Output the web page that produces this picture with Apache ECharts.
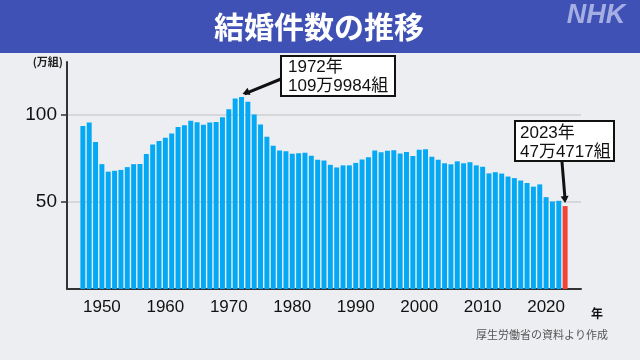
<!DOCTYPE html>
<html><head><meta charset="utf-8">
<script src="https://cdn.jsdelivr.net/npm/echarts@6/dist/echarts.min.js"></script>
<style>html,body{margin:0;padding:0;background:#eceef1;}#c{width:640px;height:360px;}</style>
</head><body><div id="c"></div>
<script>
// Data (万組), 1947-2023
const firstYear = 1947;
const marriages = [
93.4,95.4,84.2,71.5,67.2,67.7,68.2,69.8,71.5,71.6,
77.3,82.7,84.7,86.6,89.0,92.8,93.8,96.3,95.5,94.0,
95.3,95.6,98.4,102.9,109.1,110.0,107.2,100.0,94.2,87.2,
82.1,79.3,78.9,77.5,77.7,78.1,76.3,74.0,73.6,71.1,
69.6,70.8,70.8,72.2,74.2,75.4,79.3,78.3,79.2,79.5,
77.6,78.5,76.2,79.8,80.0,75.7,74.0,72.0,71.4,73.1,
72.0,72.6,70.8,70.0,66.2,66.9,66.1,64.4,63.5,62.1,
60.7,58.6,59.9,52.6,50.1,50.5,47.5];
const axisStart = 1945, axisEnd = 2025;
const yTicks = [50, 100];
const titleText = '結婚件数の推移';
const peakYear = '1972', peakLabel = ['1972年', '109万9984組'];
const lastYear = '2023', lastLabel = ['2023年', '47万4717組'];
const unitLabel = '(万組)';
const sourceText = '厚生労働省の資料より作成';

const categories = [];
for (let y = axisStart; y <= axisEnd; y++) categories.push(String(y));
const barData = categories.map(c => {
  const i = +c - firstYear;
  if (i < 0 || i >= marriages.length) return null;
  const v = marriages[i];
  if (c === lastYear) return {value: v, itemStyle: {color: '#f44336'}};
  return v;
});

const FONT = '"Liberation Sans", "Noto Sans CJK JP", sans-serif';
const chart = echarts.init(document.getElementById('c'));
chart.setOption({
  backgroundColor: '#eceef1',
  animation: false,
  grid: {left: 67, right: 59, top: 62, bottom: 71, containLabel: false},
  xAxis: {
    type: 'category', data: categories,
    axisLine: {lineStyle: {color: '#333', width: 2}},
    axisTick: {alignWithLabel: true, interval: (i, v) => (+v) % 10 === 0, length: 6, lineStyle: {color: '#222', width: 2}},
    axisLabel: {interval: (i, v) => (+v) % 10 === 0, color: '#111', fontSize: 17, fontFamily: FONT, margin: 10},
    splitLine: {show: false}
  },
  yAxis: {
    type: 'value', min: 0, max: 130, interval: 50,
    name: unitLabel, nameLocation: 'end', nameGap: 0,
    nameTextStyle: {color: '#222', fontSize: 11, fontWeight: 'bold', fontFamily: '"Noto Sans CJK JP", sans-serif', align: 'right', verticalAlign: 'middle', padding: [0, 4, 0, 0]},
    axisLine: {show: true, lineStyle: {color: '#333', width: 2}},
    axisTick: {show: true, length: 6, lineStyle: {color: '#333', width: 1.5}, customValues: yTicks},
    axisLabel: {color: '#111', fontSize: 19, fontFamily: FONT, margin: 10, customValues: yTicks},
    splitLine: {lineStyle: {color: '#d6d7da', width: 2}}
  },
  series: [{
    type: 'bar', data: barData, barCategoryGap: '22%',
    itemStyle: {color: '#03a9f4'}
  }],
  graphic: [
    {type: 'rect', left: 0, top: 0, shape: {width: 640, height: 53}, style: {fill: '#3f51b5'}, z: 10},
    {type: 'text', x: 319, y: 27, style: {text: titleText, fill: '#fff', font: 'bold 30px "Noto Sans CJK JP", sans-serif', textAlign: 'center', textVerticalAlign: 'middle'}, z: 11},
    {type: 'text', x: 596, y: 16, style: {text: 'NHK', fill: '#a4aee3', font: 'italic bold 27px "Liberation Sans", sans-serif', textAlign: 'center', textVerticalAlign: 'middle'}, z: 11},
    {type: 'text', x: 597, y: 313, style: {text: '年', fill: '#111', font: 'bold 12px "Noto Sans CJK JP", sans-serif', textAlign: 'center', textVerticalAlign: 'middle'}},
    {type: 'text', x: 608, y: 335, style: {text: sourceText, fill: '#555', font: '11px "Noto Sans CJK JP", sans-serif', textAlign: 'right', textVerticalAlign: 'middle'}}
  ]
});

function addAnnotations() {
  const pk = chart.convertToPixel({seriesIndex: 0}, [peakYear, marriages[+peakYear - firstYear]]);
  const ls = chart.convertToPixel({seriesIndex: 0}, [lastYear, marriages[+lastYear - firstYear]]);
  const boxStyle = {fill: '#fff', stroke: '#111', lineWidth: 2};
  const txtFont = '17px "Liberation Sans", "Noto Sans CJK JP", sans-serif';
  const g = chart.getOption().graphic[0].elements.slice();
  const extra = [
    {type: 'line', shape: {x1: 281, y1: 79, x2: pk[0] + 3, y2: pk[1] - 3}, style: {stroke: '#111', lineWidth: 3}, z: 20},
    {type: 'polygon', shape: {points: arrowHead(281, 79, pk[0] + 1, pk[1] - 3)}, style: {fill: '#111'}, z: 20},
    {type: 'rect', shape: {x: 281, y: 56, width: 114, height: 40}, style: boxStyle, z: 21},
    {type: 'text', x: 288, y: 67, style: {text: peakLabel[0], fill: '#111', font: txtFont, textVerticalAlign: 'middle'}, z: 22},
    {type: 'text', x: 288, y: 86, style: {text: peakLabel[1], fill: '#111', font: txtFont, textVerticalAlign: 'middle'}, z: 22},
    {type: 'line', shape: {x1: 562, y1: 162, x2: ls[0], y2: ls[1] - 6}, style: {stroke: '#111', lineWidth: 3}, z: 20},
    {type: 'polygon', shape: {points: arrowHead(562, 162, ls[0], ls[1] - 3)}, style: {fill: '#111'}, z: 20},
    {type: 'rect', shape: {x: 515, y: 121, width: 99, height: 40}, style: boxStyle, z: 21},
    {type: 'text', x: 520, y: 133, style: {text: lastLabel[0], fill: '#111', font: txtFont, textVerticalAlign: 'middle'}, z: 22},
    {type: 'text', x: 520, y: 152, style: {text: lastLabel[1], fill: '#111', font: txtFont, textVerticalAlign: 'middle'}, z: 22}
  ];
  chart.setOption({graphic: g.concat(extra)}, {replaceMerge: ['graphic']});
}
function arrowHead(x1, y1, x2, y2) {
  const a = Math.atan2(y2 - y1, x2 - x1), L = 7, W = 4;
  const bx = x2 - L * Math.cos(a), by = y2 - L * Math.sin(a);
  return [[x2, y2], [bx + W * Math.sin(a), by - W * Math.cos(a)], [bx - W * Math.sin(a), by + W * Math.cos(a)]];
}
addAnnotations();
</script></body></html>
